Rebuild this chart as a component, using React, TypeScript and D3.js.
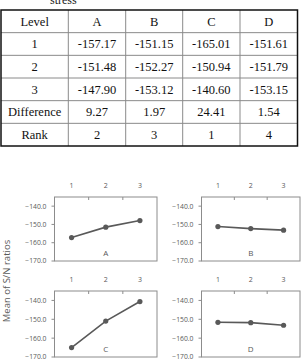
import React, { useEffect, useRef } from 'react';
import * as d3 from 'd3';

const factors = ['A', 'B', 'C', 'D'];
const levels = ['1', '2', '3'];
const level1 = [-157.17, -151.15, -165.01, -151.61];
const level2 = [-151.48, -152.27, -150.94, -151.79];
const level3 = [-147.9, -153.12, -140.6, -153.15];
const difference = [9.27, 1.97, 24.41, 1.54];
const rank = [2, 3, 1, 4];
const yTicks = [-140, -150, -160, -170];

const App = () => {
  const svgRef = useRef<SVGSVGElement>(null);

  useEffect(() => {
    const svg = d3.select(svgRef.current).attr('width', 301).attr('height', 363);
    svg.selectAll('*').remove();

    // ---- table ----
    const rows = [
      ['Level', ...factors],
      ['1', ...level1.map((v) => v.toFixed(2))],
      ['2', ...level2.map((v) => v.toFixed(2))],
      ['3', ...level3.map((v) => v.toFixed(2))],
      ['Difference', ...difference.map((v) => v.toFixed(2))],
      ['Rank', ...rank.map(String)],
    ];
    const colEdges = [1, 68.3, 125.7, 182.7, 240, 297.5];
    const rowY = d3.scaleLinear().domain([0, rows.length]).range([10, 146]);
    const t = svg.append('g');

    // caption line above the table, cut by the page top
    svg
      .append('text')
      .attr('x', 50)
      .attr('y', 4)
      .attr('font-family', 'Liberation Serif')
      .attr('font-size', 12)
      .attr('fill', '#222')
      .text('stress');

    for (let i = 1; i < rows.length; i++) {
      t.append('line')
        .attr('x1', colEdges[0]).attr('x2', colEdges[5])
        .attr('y1', rowY(i)).attr('y2', rowY(i))
        .attr('stroke', '#8a8a8a').attr('stroke-width', 1);
    }
    for (let j = 1; j < colEdges.length - 1; j++) {
      t.append('line')
        .attr('x1', colEdges[j]).attr('x2', colEdges[j])
        .attr('y1', rowY(0)).attr('y2', rowY(rows.length))
        .attr('stroke', '#8a8a8a').attr('stroke-width', 1);
    }
    t.append('rect')
      .attr('x', colEdges[0]).attr('y', rowY(0))
      .attr('width', colEdges[5] - colEdges[0])
      .attr('height', rowY(rows.length) - rowY(0))
      .attr('fill', 'none').attr('stroke', '#111').attr('stroke-width', 1.5);

    rows.forEach((r, i) => {
      r.forEach((cell, j) => {
        t.append('text')
          .attr('x', (colEdges[j] + colEdges[j + 1]) / 2)
          .attr('y', (rowY(i) + rowY(i + 1)) / 2)
          .attr('dy', '0.35em')
          .attr('text-anchor', 'middle')
          .attr('font-family', 'Liberation Serif')
          .attr('font-size', 12.5)
          .attr('fill', '#111')
          .text(cell);
      });
    });

    // ---- main effects panels ----
    const colLeft = [54.5, 201.5];
    const colRight = [157, 300];
    const rowTop = [197, 291];
    const rowBottom = [261, 357];
    const gray = '#595959';
    const font = 'Open Sans';

    factors.forEach((f, k) => {
      const c = k % 2;
      const r = Math.floor(k / 2);
      const x = d3.scaleBand().domain(levels).range([colLeft[c], colRight[c]]);
      const y = d3.scaleLinear().domain([-170, -135]).range([rowBottom[r], rowTop[r]]);
      const vals = [level1[k], level2[k], level3[k]];
      const g = svg.append('g');

      g.append('rect')
        .attr('x', colLeft[c]).attr('y', rowTop[r])
        .attr('width', colRight[c] - colLeft[c])
        .attr('height', rowBottom[r] - rowTop[r])
        .attr('fill', 'none').attr('stroke', '#8c8c8c').attr('stroke-width', 1);

      // top category ticks (inside)
      levels.slice(1).forEach((l) => {
        g.append('line')
          .attr('x1', x(l)).attr('x2', x(l))
          .attr('y1', rowTop[r]).attr('y2', rowTop[r] + 3)
          .attr('stroke', '#8c8c8c');
      });
      levels.forEach((l) => {
        g.append('text')
          .attr('x', x(l)! + x.bandwidth() / 2)
          .attr('y', rowTop[r] - 11)
          .attr('dy', '0.35em')
          .attr('text-anchor', 'middle')
          .attr('font-family', font)
          .attr('font-size', 7)
          .attr('fill', gray)
          .text(l);
      });

      yTicks.forEach((v) => {
        g.append('line')
          .attr('x1', colLeft[c] - 3).attr('x2', colLeft[c])
          .attr('y1', y(v)).attr('y2', y(v))
          .attr('stroke', '#8c8c8c');
        g.append('text')
          .attr('x', colLeft[c] - 8)
          .attr('y', y(v))
          .attr('dy', '0.35em')
          .attr('text-anchor', 'end')
          .attr('font-family', font)
          .attr('font-size', 6.8)
          .attr('fill', gray)
          .text(d3.format('.1f')(v));
      });

      const line = d3
        .line<number>()
        .x((_, i) => x(levels[i])! + x.bandwidth() / 2)
        .y((d) => y(d));
      g.append('path')
        .attr('d', line(vals))
        .attr('fill', 'none')
        .attr('stroke', gray)
        .attr('stroke-width', 1.6);
      g.selectAll('circle')
        .data(vals)
        .join('circle')
        .attr('cx', (_, i) => x(levels[i])! + x.bandwidth() / 2)
        .attr('cy', (d) => y(d))
        .attr('r', 2.6)
        .attr('fill', gray);

      g.append('text')
        .attr('x', x('2')! + x.bandwidth() / 2)
        .attr('y', rowBottom[r] - 5)
        .attr('text-anchor', 'middle')
        .attr('font-family', font)
        .attr('font-size', 8)
        .attr('fill', gray)
        .text(f);
    });

    svg
      .append('text')
      .attr('transform', 'translate(10,281) rotate(-90)')
      .attr('text-anchor', 'middle')
      .attr('font-family', font)
      .attr('font-size', 9.5)
      .attr('fill', gray)
      .text('Mean of S/N ratios');
  }, []);

  return (
    <div style={{ position: 'absolute', left: 0, top: 0 }}>
      <svg ref={svgRef} style={{ display: 'block' }}></svg>
    </div>
  );
};

export default App;
